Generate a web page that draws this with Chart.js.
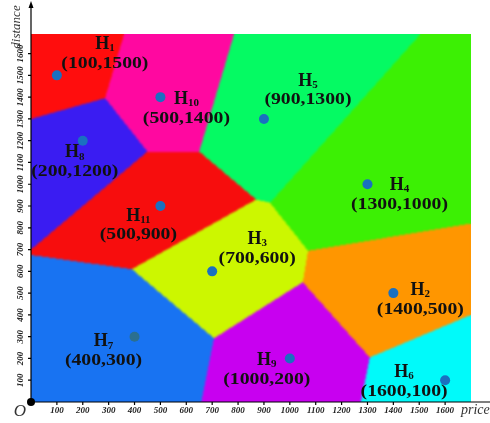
<!DOCTYPE html>
<html>
<head>
<meta charset="utf-8">
<script src="https://cdn.jsdelivr.net/npm/chart.js@4"></script>
<style>
  body { margin: 0; background: #fff; }
  canvas { display: block; }
</style>
</head>
<body>
<canvas id="chart" width="490" height="423"></canvas>
<script>
// sites H1..H11
const names = ["1", "2", "3", "4", "5", "6", "7", "8", "9", "10", "11"];
const priceVals = [100, 1400, 700, 1300, 900, 1600, 400, 200, 1000, 500, 500];
const distanceVals = [1500, 500, 600, 1000, 1300, 100, 300, 1200, 200, 1400, 900];
const xTicks = [100, 200, 300, 400, 500, 600, 700, 800, 900, 1000, 1100, 1200, 1300, 1400, 1500, 1600];
const yTicks = [100, 200, 300, 400, 500, 600, 700, 800, 900, 1000, 1100, 1200, 1300, 1400, 1500, 1600];

// cell colours, one per site
const cellColors = ["#ff0d0d", "#ff9600", "#ccf700", "#3cf004", "#05fa63", "#00fafa",
                    "#1873f2", "#3a1cf2", "#c800f0", "#ff08a0", "#f70d0d"];
// where each label sits relative to its dot (px)
const labelOffsets = [[48, -31], [27, -3], [45, -32], [32, 1], [44, -38], [-41, -8],
                      [-31, 5], [-8, 12], [-23, 2], [26, 2], [-22, 10]];

function hexToRgb(h) {
  return [parseInt(h.slice(1, 3), 16), parseInt(h.slice(3, 5), 16), parseInt(h.slice(5, 7), 16)];
}

const voronoiPlugin = {
  id: "voronoi",
  beforeDatasetsDraw(chart) {
    const { ctx, chartArea: a, scales: { x, y } } = chart;
    const w = Math.round(a.right - a.left), h = Math.round(a.bottom - a.top);
    const off = document.createElement("canvas");
    off.width = w; off.height = h;
    const octx = off.getContext("2d");
    const img = octx.createImageData(w, h);
    const rgb = cellColors.map(hexToRgb);
    for (let j = 0; j < h; j++) {
      const dy = y.getValueForPixel(a.top + j + 0.5);
      for (let i = 0; i < w; i++) {
        const dx = x.getValueForPixel(a.left + i + 0.5);
        let best = 0, bd = Infinity;
        for (let k = 0; k < priceVals.length; k++) {
          const d = (dx - priceVals[k]) ** 2 + (dy - distanceVals[k]) ** 2;
          if (d < bd) { bd = d; best = k; }
        }
        const p = (j * w + i) * 4;
        img.data[p] = rgb[best][0];
        img.data[p + 1] = rgb[best][1];
        img.data[p + 2] = rgb[best][2];
        img.data[p + 3] = 255;
      }
    }
    octx.putImageData(img, 0, 0);
    ctx.save();
    ctx.drawImage(off, a.left, a.top);
    ctx.beginPath();
    ctx.rect(a.left, a.top, w, h);
    ctx.clip();
    ctx.filter = "blur(1.2px)";
    ctx.drawImage(off, a.left, a.top);
    ctx.restore();
  }
};

const axesPlugin = {
  id: "axesAndLabels",
  afterDatasetsDraw(chart) {
    const { ctx, chartArea: a, scales: { x, y } } = chart;
    const x0 = x.getPixelForValue(0), y0 = y.getPixelForValue(0);
    ctx.save();
    // labels next to each site
    ctx.fillStyle = "#111";
    ctx.textBaseline = "middle";
    priceVals.forEach((v, k) => {
      const px = x.getPixelForValue(v) + labelOffsets[k][0];
      const py = y.getPixelForValue(distanceVals[k]) + labelOffsets[k][1];
      ctx.font = "bold 18px 'Liberation Serif'";
      const hw = ctx.measureText("H").width;
      ctx.font = "bold 11px 'Liberation Serif'";
      const sw = ctx.measureText(names[k]).width;
      const start = px - (hw + sw) / 2;
      ctx.textAlign = "left";
      ctx.font = "bold 18px 'Liberation Serif'";
      ctx.fillText("H", start, py);
      ctx.font = "bold 11px 'Liberation Serif'";
      ctx.fillText(names[k], start + hw, py + 4);
      ctx.save();
      ctx.translate(px, py + 19);
      ctx.scale(1.16, 1);
      ctx.textAlign = "center";
      ctx.font = "bold 17px 'Liberation Serif'";
      ctx.fillText("(" + v + "," + distanceVals[k] + ")", 0, 0);
      ctx.restore();
    });

    // axes
    ctx.strokeStyle = "#000";
    ctx.fillStyle = "#000";
    ctx.lineWidth = 1.2;
    ctx.beginPath();
    ctx.moveTo(x0, y0);
    ctx.lineTo(x0, 4);
    ctx.moveTo(x0, y0);
    ctx.lineTo(490, y0);
    xTicks.forEach(t => {
      const p = x.getPixelForValue(t);
      ctx.moveTo(p, y0); ctx.lineTo(p, y0 + 3);
    });
    yTicks.forEach(t => {
      const p = y.getPixelForValue(t);
      ctx.moveTo(x0 - 3, p); ctx.lineTo(x0, p);
    });
    ctx.stroke();
    ctx.beginPath();
    ctx.moveTo(x0, 1);
    ctx.lineTo(x0 - 2.5, 8);
    ctx.lineTo(x0 + 2.5, 8);
    ctx.closePath();
    ctx.fill();
    ctx.beginPath();
    ctx.arc(x0, y0, 4, 0, Math.PI * 2);
    ctx.fill();

    // tick labels
    ctx.fillStyle = "#222";
    ctx.font = "italic bold 9px 'Liberation Serif'";
    ctx.textAlign = "center";
    ctx.textBaseline = "middle";
    xTicks.forEach(t => ctx.fillText(String(t), x.getPixelForValue(t), y0 + 9));
    yTicks.forEach(t => {
      ctx.save();
      ctx.translate(x0 - 10, y.getPixelForValue(t));
      ctx.rotate(-Math.PI / 2);
      ctx.fillText(String(t), 0, 0);
      ctx.restore();
    });

    // axis titles
    ctx.fillStyle = "#333";
    ctx.font = "italic 14px 'Liberation Serif'";
    ctx.textAlign = "left";
    ctx.fillText("price", 461, y0 + 8);
    ctx.save();
    ctx.translate(17, 27);
    ctx.rotate(-Math.PI / 2);
    ctx.textAlign = "center";
    ctx.font = "italic 13px 'Liberation Serif'";
    ctx.fillText("distance", 0, 0);
    ctx.restore();
    ctx.font = "italic 17px 'Liberation Serif'";
    ctx.textAlign = "center";
    ctx.fillText("O", 20, y0 + 10);
    ctx.restore();
  }
};

const ctx = document.getElementById("chart").getContext("2d");
new Chart(ctx, {
  type: "scatter",
  data: {
    datasets: [{
      label: "sites",
      data: priceVals.map((v, k) => ({ x: v, y: distanceVals[k] })),
      pointRadius: 5,
      pointBorderWidth: 0,
      pointBackgroundColor: priceVals.map((v, k) => k === 6 ? "#2b6f8f" : "#1a70c0")
    }]
  },
  options: {
    responsive: false,
    animation: false,
    layout: { padding: { left: 31, right: 19, top: 34, bottom: 21 } },
    plugins: { legend: { display: false }, tooltip: { enabled: false } },
    scales: {
      x: { type: "linear", min: 0, max: 1700, display: false },
      y: { type: "linear", min: 0, max: 1690, display: false }
    }
  },
  plugins: [voronoiPlugin, axesPlugin]
});
</script>
</body>
</html>
